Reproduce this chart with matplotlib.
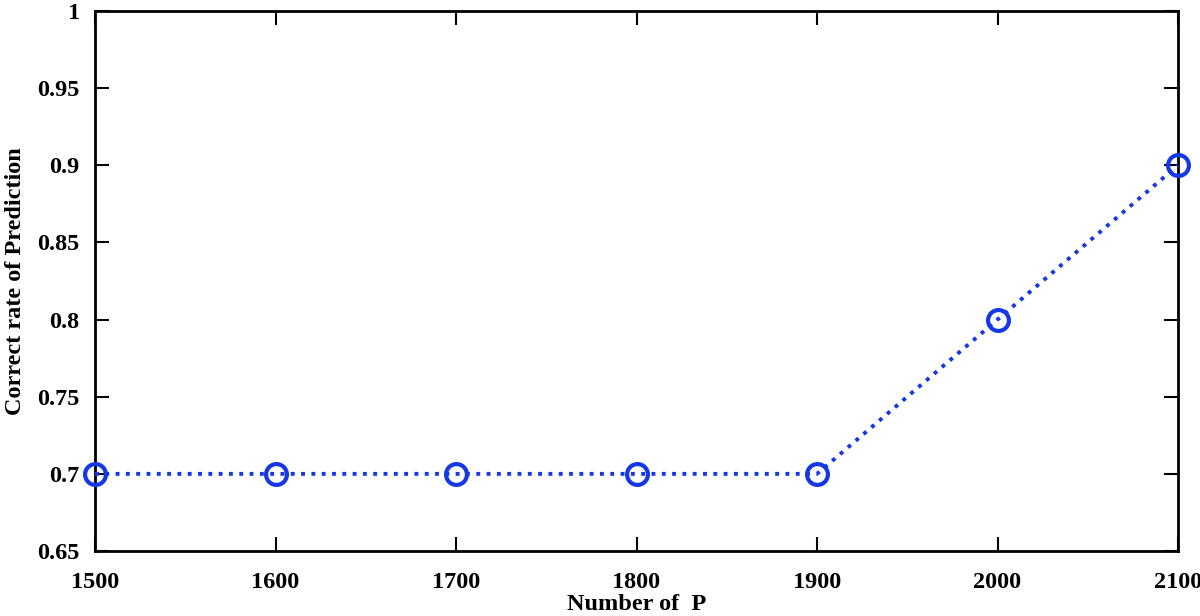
import matplotlib
matplotlib.use('Agg')
import matplotlib.pyplot as plt

# Data
num_p = [1500, 1600, 1700, 1800, 1900, 2000, 2100]
correct_rate = [0.7, 0.7, 0.7, 0.7, 0.7, 0.8, 0.9]
y_ticks = [0.65, 0.7, 0.75, 0.8, 0.85, 0.9, 0.95, 1]
y_tick_labels = ['0.65', '0.7', '0.75', '0.8', '0.85', '0.9', '0.95', '1']

plt.rcParams['font.family'] = ['Liberation Serif', 'DejaVu Serif']
plt.rcParams['font.weight'] = 'bold'

fig = plt.figure(figsize=(12, 6.16), dpi=100)
ax = fig.add_axes([95 / 1200, 1 - 551 / 616, (1178 - 95) / 1200, (551 - 11) / 616])

ax.plot(num_p, correct_rate, linestyle=':', linewidth=2.8, color='#1538e6',
        marker='o', markersize=15, markerfacecolor='none', markeredgewidth=3,
        markeredgecolor='#1538e6', clip_on=False, zorder=3)

ax.set_xlim(1500, 2100)
ax.set_ylim(0.65, 1)
ax.set_xticks(num_p)
ax.set_yticks(y_ticks)
ax.set_yticklabels(y_tick_labels)

ax.tick_params(direction='in', length=10, width=1.5, labelsize=17.5,
               top=True, right=True)
ax.tick_params(axis='x', pad=15)
ax.tick_params(axis='y', pad=11)
for lbl in ax.get_xticklabels() + ax.get_yticklabels():
    lbl.set_fontweight('bold')
for sp in ax.spines.values():
    sp.set_linewidth(2)

ax.set_xlabel('Number of  P', fontsize=17.5, fontweight='bold', labelpad=1)
ax.set_ylabel('Correct rate of Prediction', fontsize=17.5, fontweight='bold', labelpad=8)

plt.savefig('out.png', dpi=100)
